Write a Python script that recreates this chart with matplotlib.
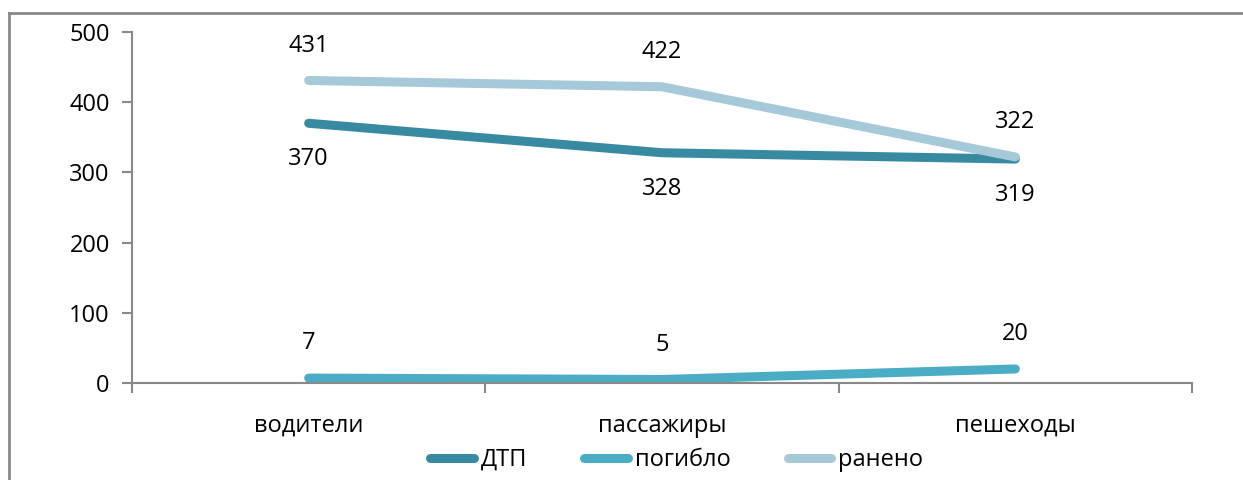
import matplotlib
matplotlib.use('Agg')
import matplotlib.pyplot as plt
from matplotlib.lines import Line2D

plt.rcParams['font.family'] = ['Open Sans', 'DejaVu Sans']

categories = ['водители', 'пассажиры', 'пешеходы']
dtp = [370, 328, 319]
killed = [7, 5, 20]
injured = [431, 422, 322]

colors = {'ДТП': '#378a9f', 'погибло': '#4bacc6', 'ранено': '#a5c9d8'}
axis_gray = '#898989'
fs = 17

fig = plt.figure(figsize=(12.43, 4.8), dpi=100)
ax = fig.add_axes([0.1062, 0.2021, 0.959 - 0.1062, 0.9333 - 0.2021])

x = list(range(len(categories)))
series = [('ДТП', dtp, -26), ('погибло', killed, 25), ('ранено', injured, 25)]
for name, vals, off in series:
    ax.plot(x, vals, color=colors[name], lw=6.5, solid_capstyle='round', label=name)
for name, vals, off in series:
    for xi, v in zip(x, vals):
        ax.annotate(str(v), (xi, v), xytext=(0, off), textcoords='offset points',
                    ha='center', va='center', fontsize=fs, color='black')

ax.set_xlim(-0.5, 2.5)
ax.set_ylim(0, 500)
ax.set_yticks(range(0, 501, 100))
ax.set_xticks(x)
ax.set_xticklabels(categories)
ax.set_xticks([-0.5, 0.5, 1.5, 2.5], minor=True)
ax.tick_params(axis='x', which='major', length=0, pad=22, labelsize=fs)
ax.tick_params(axis='x', which='minor', length=7, width=1.5, color=axis_gray, direction='out')
ax.tick_params(axis='y', length=7, width=1.5, color=axis_gray, labelsize=fs, pad=9)
for s in ['top', 'right']:
    ax.spines[s].set_visible(False)
for s in ['left', 'bottom']:
    ax.spines[s].set_color(axis_gray)
    ax.spines[s].set_linewidth(1.5)

ax.legend(loc='upper center', bbox_to_anchor=(0.514, -0.125), ncol=3, frameon=False,
          fontsize=fs, handlelength=1.85, handletextpad=0.3, columnspacing=2.4)

# chart frame
fig.add_artist(Line2D([9 / 1243, 1], [1 - 13 / 480, 1 - 13 / 480], color=axis_gray, lw=2,
                      transform=fig.transFigure))
fig.add_artist(Line2D([9 / 1243, 9 / 1243], [0, 1 - 13 / 480], color=axis_gray, lw=2,
                      transform=fig.transFigure))

fig.savefig('out.png', dpi=100)
